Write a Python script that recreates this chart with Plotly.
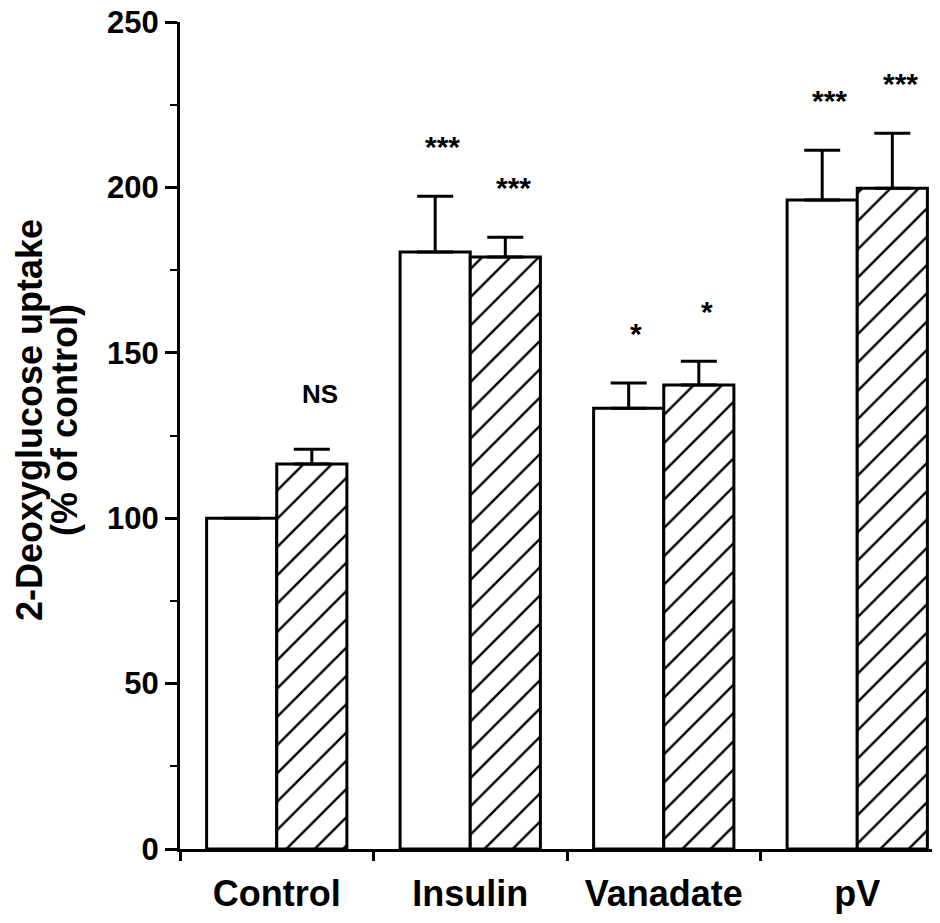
import plotly.graph_objects as go

categories = ["Control", "Insulin", "Vanadate", "pV"]
basal_values = [100, 180.5, 133.3, 196.2]
basal_errors = [None, 16.9, 7.6, 15.1]
treated_values = [116.4, 179.0, 140.3, 199.8]
treated_errors = [4.5, 6.0, 7.2, 16.6]
basal_sig = ["", "***", "*", "***"]
treated_sig = ["NS", "***", "*", "***"]
y_ticks = [0, 50, 100, 150, 200, 250]
title_lines = ["2-Deoxyglucose uptake", "(% of control)"]

FONT = "Liberation Sans, Arial, Helvetica, sans-serif"

# page body has an 8px margin; compensate so the plot area sits at x 180-940, y 22-849
L, R, T, B = 172, 8, 14, 82
W, H = 940, 923
PX0, PY0 = 8 + L, 8 + T
PW = W - L - R
PH = H - T - B
CAT_PX = 193.5

fig = go.Figure()
fig.add_trace(go.Bar(
    x=categories, y=basal_values, name="basal",
    marker=dict(color="white", line=dict(color="black", width=3)),
    error_y=dict(type="data", array=basal_errors, arrayminus=[0] * 4, symmetric=False,
                 color="black", thickness=3, width=18),
))
fig.add_trace(go.Bar(
    x=categories, y=treated_values, name="treated",
    marker=dict(color="white", line=dict(color="black", width=3),
                pattern=dict(shape="/", fgcolor="#000000", fgopacity=1, bgcolor="white",
                             size=20, solidity=0.12)),
    error_y=dict(type="data", array=treated_errors, arrayminus=[0] * 4, symmetric=False,
                 color="black", thickness=3, width=18),
))

bar_w = (1 - 0.275) / 2
annotations = []
for i in range(len(categories)):
    for vals, errs, sig, off in ((basal_values, basal_errors, basal_sig, -bar_w / 2),
                                 (treated_values, treated_errors, treated_sig, bar_w / 2)):
        if not sig[i]:
            continue
        top = vals[i] + (errs[i] or 0)
        star = sig[i] != "NS"
        annotations.append(dict(
            x=i + off + 0.04, y=top, xref="x", yref="y", text=sig[i], showarrow=False,
            yanchor="middle", yshift=(50 if star else 55),
            font=dict(family=FONT, size=(30 if star else 26), color="black", weight="bold"),
        ))

for line, xc in zip(title_lines, (29, 64)):
    annotations.append(dict(
        x=(xc - PX0) / PW, y=(PY0 + PH - 420) / PH, xref="paper", yref="paper",
        text=line, textangle=-90, showarrow=False,
        xanchor="center", yanchor="middle",
        font=dict(family=FONT, size=36, color="black", weight="bold"),
    ))

fig.update_layout(
    width=W, height=H,
    margin=dict(l=L, r=R, t=T, b=B),
    plot_bgcolor="white", paper_bgcolor="white",
    barmode="group", bargap=0.275, bargroupgap=0,
    showlegend=False,
    annotations=annotations,
    font=dict(family=FONT, color="black"),
)
fig.update_xaxes(
    range=[-0.5, -0.5 + PW / CAT_PX], tickson="boundaries",
    showline=True, linecolor="black", linewidth=3,
    ticks="outside", ticklen=9, tickwidth=3, tickcolor="black",
    showgrid=False, zeroline=False, automargin=False,
    tickfont=dict(family=FONT, size=36, color="black", weight="bold"),
    ticklabelstandoff=11,
)
fig.update_yaxes(
    range=[0, 250.05], tickvals=y_ticks,
    showline=True, linecolor="black", linewidth=3,
    ticks="outside", ticklen=12, tickwidth=3, tickcolor="black",
    minor=dict(dtick=25, ticks="outside", ticklen=7, tickwidth=2, tickcolor="black", showgrid=False),
    showgrid=False, zeroline=False, automargin=False,
    tickfont=dict(family=FONT, size=31, color="black", weight="bold"),
    ticklabelstandoff=0, ticklabeloverflow="allow",
)

fig.write_html("out.html")
